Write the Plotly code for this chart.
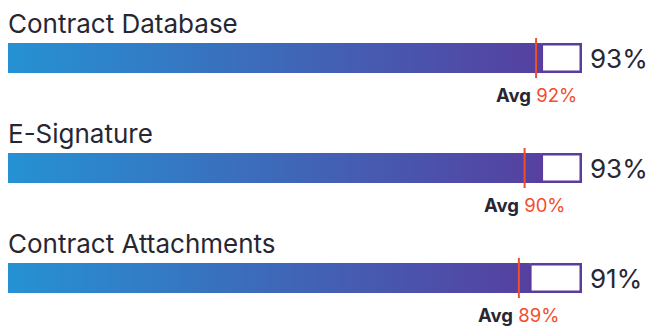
import plotly.graph_objects as go

categories = ["Contract Database", "E-Signature", "Contract Attachments"]
values = [93, 93, 91]
averages = [92, 90, 89]
value_labels = ["93%", "93%", "91%"]
avg_labels = ["92%", "90%", "89%"]

FONT = "Inter, Lato, sans-serif"
DARK = "#272733"
RED = "#f24e2c"
PURPLE = "#5a3c9e"
GRAD = [[0, "#2592d3"], [1, "#5640a0"]]

BAR_H = 0.136
IN_Y = 0.011   # half stroke inset (y units)
IN_X = 0.22    # half stroke inset (x units)
fig = go.Figure()

for i, (cat, v, a) in enumerate(zip(categories, values, averages)):
    # gradient fill
    fig.add_trace(go.Scatter(
        x=[0, v, v, 0, 0], y=[i - BAR_H, i - BAR_H, i + BAR_H, i + BAR_H, i - BAR_H],
        mode="lines", fill="toself",
        fillgradient=dict(type="horizontal", colorscale=GRAD, start=0, stop=v),
        line=dict(width=0), hoverinfo="skip", showlegend=False))
    # remaining (empty) part with outline, stroke kept inside the bar
    x0, x1 = v, 100 - IN_X
    y0, y1 = i - BAR_H + IN_Y, i + BAR_H - IN_Y
    fig.add_trace(go.Scatter(
        x=[x0, x1, x1, x0, x0], y=[y0, y0, y1, y1, y0],
        mode="lines", fill="toself", fillcolor="white",
        line=dict(color=PURPLE, width=2.5), hoverinfo="skip", showlegend=False))
    # average line
    fig.add_trace(go.Scatter(
        x=[a, a], y=[i - 0.182, i + 0.182], mode="lines",
        line=dict(color=RED, width=2), hoverinfo="skip", showlegend=False))
    # title
    fig.add_annotation(x=0, y=i - 0.31, text=cat, showarrow=False,
                       xanchor="left", yanchor="middle", xshift=-2,
                       font=dict(family=FONT, size=26, color=DARK))
    # value label
    fig.add_annotation(x=100, y=i, text=value_labels[i], showarrow=False,
                       xanchor="left", yanchor="middle", xshift=6,
                       font=dict(family=FONT, size=26, color=DARK))
    # avg label
    fig.add_annotation(x=a, y=i + 0.335, showarrow=False,
                       text=f"<b>Avg</b> <span style='color:{RED}'>{avg_labels[i]}</span>",
                       xanchor="center", yanchor="middle",
                       font=dict(family=FONT, size=18.5, color=DARK))

fig.update_layout(
    width=649, height=327,
    margin=dict(l=0, r=0, t=0, b=0),
    paper_bgcolor="white", plot_bgcolor="white",
    xaxis=dict(range=[-8 / 574 * 100, 641 / 574 * 100], visible=False, fixedrange=True),
    yaxis=dict(range=[(327 - 58) / 110, -58 / 110], visible=False, fixedrange=True),
)

fig.write_html("out.html", config={"displayModeBar": False},
               post_script="document.body.style.margin='0';")
